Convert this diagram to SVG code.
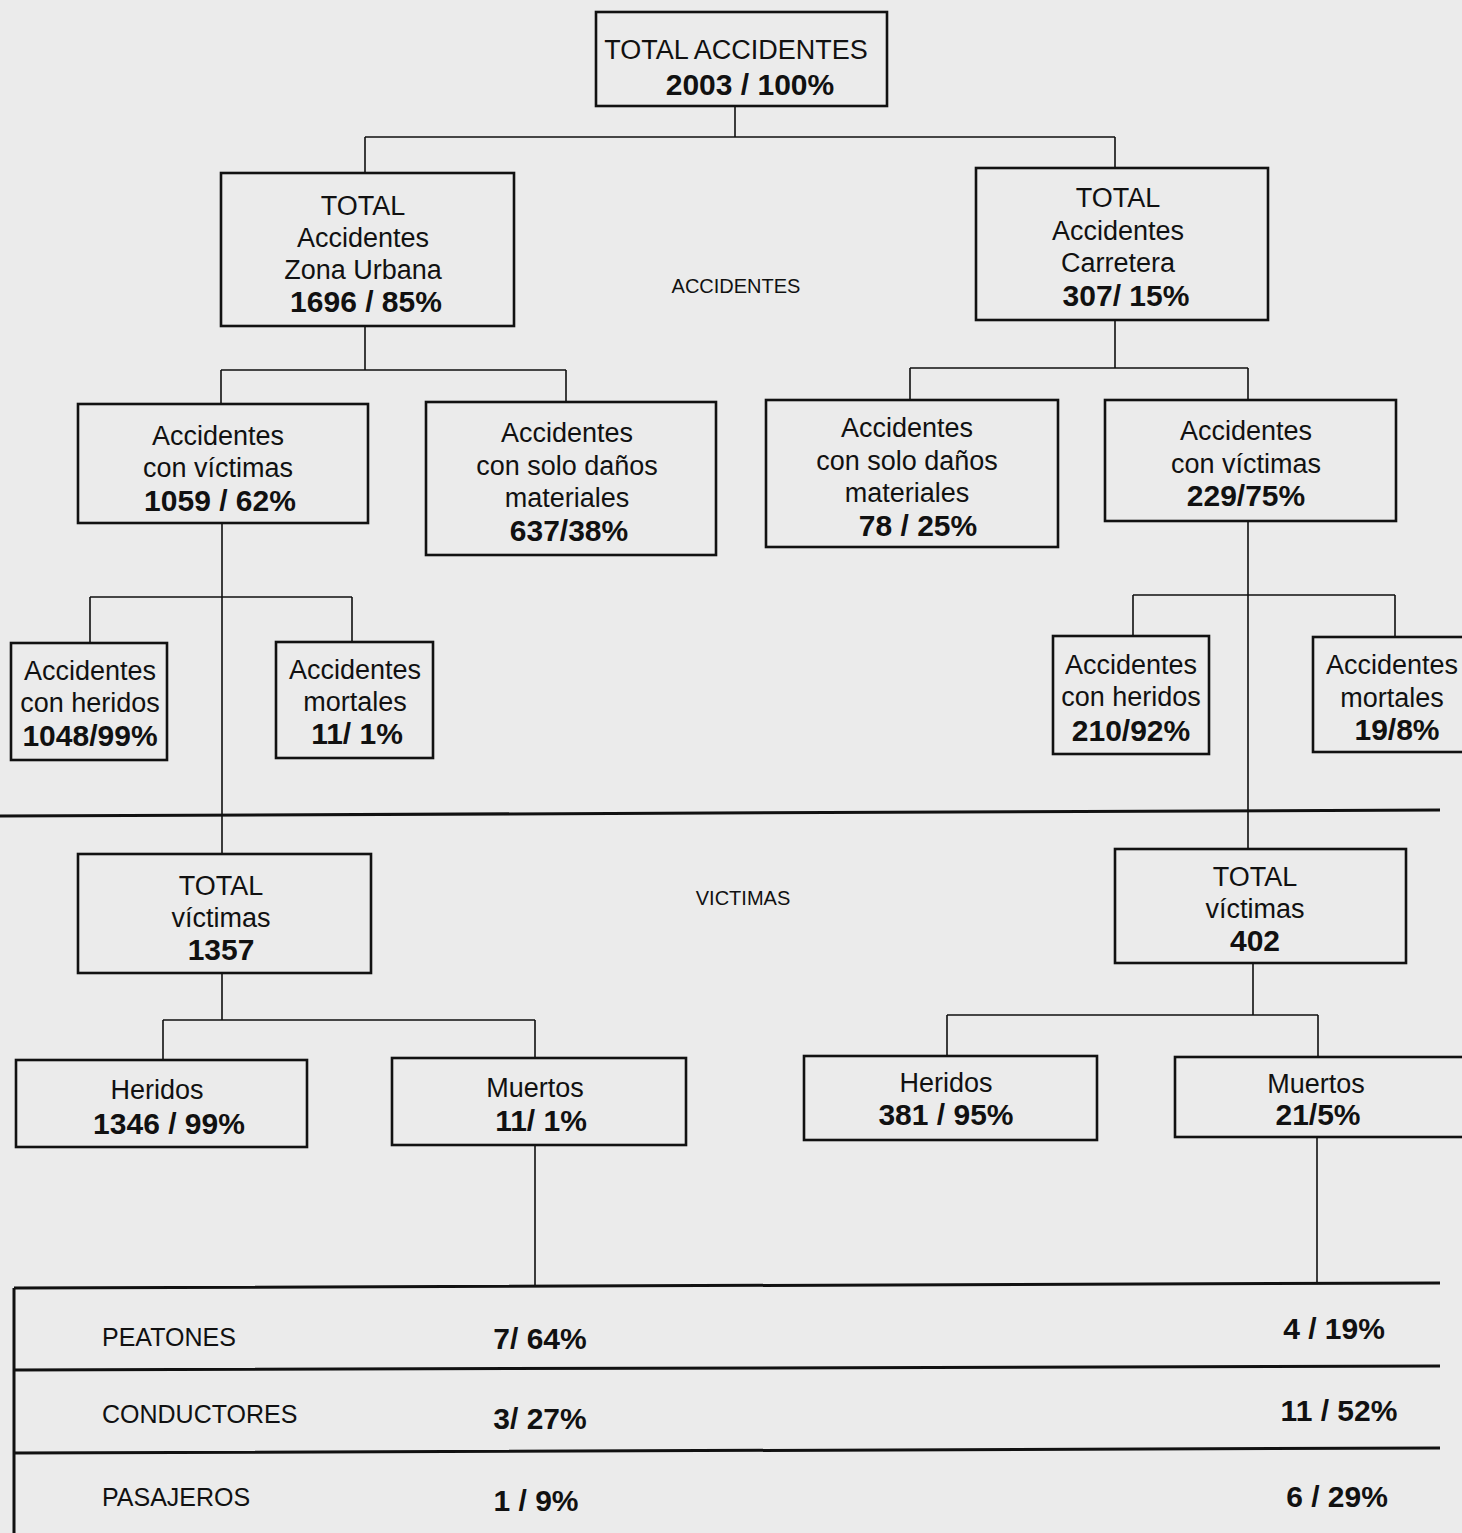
<svg xmlns="http://www.w3.org/2000/svg" width="1462" height="1533" viewBox="0 0 1462 1533">
<style>
.bx{fill:none;stroke:#111;stroke-width:2.6}
.cn{fill:none;stroke:#111;stroke-width:1.6}
.sep{fill:none;stroke:#111;stroke-width:3}
text{font-family:"Liberation Sans",Arial,sans-serif;fill:#111;text-anchor:middle}
.r{font-size:27px}
.b{font-size:30px;font-weight:bold}
.lb{font-size:20px}
.tr{font-size:25px;text-anchor:start}
.tb{font-size:30px;font-weight:bold}
</style>
<rect x="0" y="0" width="1462" height="1533" fill="#ebebeb"/>
<g id="connectors">
<path class="cn" d="M735 106V137M365 137H1115M365 137V173M1115 137V168"/>
<path class="cn" d="M365 326V370M221 370H566M221 370V404M566 370V402"/>
<path class="cn" d="M1115 320V368M910 368H1248M910 368V400M1248 368V400"/>
<path class="cn" d="M222 523V854M90 597H352M90 597V643M352 597V642"/>
<path class="cn" d="M1248 521V849M1133 595H1395M1133 595V636M1395 595V637"/>
<path class="cn" d="M222 973V1020M163 1020H535M163 1020V1060M535 1020V1058"/>
<path class="cn" d="M1253 963V1015M947 1015H1318M947 1015V1056M1318 1015V1057"/>
<path class="cn" d="M535 1145V1287M1317 1137V1283"/>
</g>
<g id="separator">
<path class="sep" d="M0 816L1440 810"/>
</g>
<text class="lb" x="736" y="293">ACCIDENTES</text>
<text class="lb" x="743" y="905">VICTIMAS</text>
<g id="n-total"><rect class="bx" x="596" y="12" width="291" height="94"/>
<text class="r" x="736" y="59">TOTAL ACCIDENTES</text><text class="b" x="750" y="95">2003 / 100%</text></g>
<g id="n-urbana"><rect class="bx" x="221" y="173" width="293" height="153"/>
<text class="r" x="363" y="215">TOTAL</text><text class="r" x="363" y="247">Accidentes</text><text class="r" x="363" y="279">Zona Urbana</text><text class="b" x="366" y="312">1696 / 85%</text></g>
<g id="n-carretera"><rect class="bx" x="976" y="168" width="292" height="152"/>
<text class="r" x="1118" y="207">TOTAL</text><text class="r" x="1118" y="240">Accidentes</text><text class="r" x="1118" y="272">Carretera</text><text class="b" x="1126" y="306">307/ 15%</text></g>
<g id="n-u-victimas"><rect class="bx" x="78" y="404" width="290" height="119"/>
<text class="r" x="218" y="445">Accidentes</text><text class="r" x="218" y="477">con víctimas</text><text class="b" x="220" y="511">1059 / 62%</text></g>
<g id="n-u-danos"><rect class="bx" x="426" y="402" width="290" height="153"/>
<text class="r" x="567" y="442">Accidentes</text><text class="r" x="567" y="475">con solo daños</text><text class="r" x="567" y="507">materiales</text><text class="b" x="569" y="541">637/38%</text></g>
<g id="n-c-danos"><rect class="bx" x="766" y="400" width="292" height="147"/>
<text class="r" x="907" y="437">Accidentes</text><text class="r" x="907" y="470">con solo daños</text><text class="r" x="907" y="502">materiales</text><text class="b" x="918" y="536">78 / 25%</text></g>
<g id="n-c-victimas"><rect class="bx" x="1105" y="400" width="291" height="121"/>
<text class="r" x="1246" y="440">Accidentes</text><text class="r" x="1246" y="473">con víctimas</text><text class="b" x="1246" y="506">229/75%</text></g>
<g id="n-u-heridos"><rect class="bx" x="11" y="643" width="156" height="117"/>
<text class="r" x="90" y="680">Accidentes</text><text class="r" x="90" y="712">con heridos</text><text class="b" x="90" y="746">1048/99%</text></g>
<g id="n-u-mortales"><rect class="bx" x="276" y="642" width="157" height="116"/>
<text class="r" x="355" y="679">Accidentes</text><text class="r" x="355" y="711">mortales</text><text class="b" x="357" y="744">11/ 1%</text></g>
<g id="n-c-heridos"><rect class="bx" x="1053" y="636" width="156" height="118"/>
<text class="r" x="1131" y="674">Accidentes</text><text class="r" x="1131" y="706">con heridos</text><text class="b" x="1131" y="741">210/92%</text></g>
<g id="n-c-mortales"><rect class="bx" x="1313" y="637" width="170" height="115"/>
<text class="r" x="1392" y="674">Accidentes</text><text class="r" x="1392" y="707">mortales</text><text class="b" x="1397" y="740">19/8%</text></g>
<g id="n-u-total-victimas"><rect class="bx" x="78" y="854" width="293" height="119"/>
<text class="r" x="221" y="895">TOTAL</text><text class="r" x="221" y="927">víctimas</text><text class="b" x="221" y="960">1357</text></g>
<g id="n-c-total-victimas"><rect class="bx" x="1115" y="849" width="291" height="114"/>
<text class="r" x="1255" y="886">TOTAL</text><text class="r" x="1255" y="918">víctimas</text><text class="b" x="1255" y="951">402</text></g>
<g id="n-u-heridos2"><rect class="bx" x="16" y="1060" width="291" height="87"/>
<text class="r" x="157" y="1099">Heridos</text><text class="b" x="169" y="1134">1346 / 99%</text></g>
<g id="n-u-muertos"><rect class="bx" x="392" y="1058" width="294" height="87"/>
<text class="r" x="535" y="1097">Muertos</text><text class="b" x="541" y="1131">11/ 1%</text></g>
<g id="n-c-heridos2"><rect class="bx" x="804" y="1056" width="293" height="84"/>
<text class="r" x="946" y="1092">Heridos</text><text class="b" x="946" y="1125">381 / 95%</text></g>
<g id="n-c-muertos"><rect class="bx" x="1175" y="1057" width="300" height="80"/>
<text class="r" x="1316" y="1093">Muertos</text><text class="b" x="1318" y="1125">21/5%</text></g>
<g id="table">
<path class="sep" d="M14 1288L1440 1283M14 1370L1440 1366M14 1453L1440 1448M14 1288V1533"/>
<text class="tr" x="102" y="1346">PEATONES</text><text class="tb" x="540" y="1349">7/ 64%</text><text class="tb" x="1334" y="1339">4 / 19%</text>
<text class="tr" x="102" y="1423">CONDUCTORES</text><text class="tb" x="540" y="1429">3/ 27%</text><text class="tb" x="1339" y="1421">11 / 52%</text>
<text class="tr" x="102" y="1506">PASAJEROS</text><text class="tb" x="536" y="1511">1 / 9%</text><text class="tb" x="1337" y="1507">6 / 29%</text>
</g>
</svg>
